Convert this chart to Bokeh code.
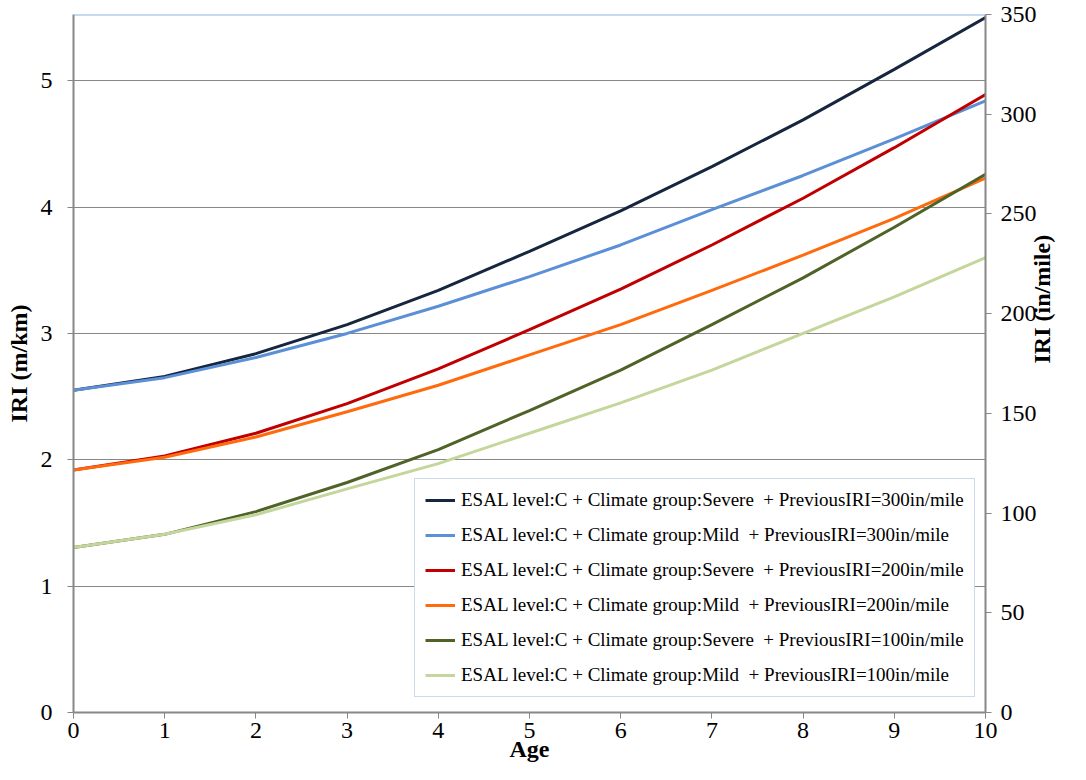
import math
from bokeh.plotting import figure
from bokeh.models import Range1d, LinearAxis, FixedTicker, Span, Legend, LegendItem
from bokeh.embed import file_html
from bokeh.resources import INLINE

age = [0, 1, 2, 3, 4, 5, 6, 7, 8, 9, 10]
severe_300 = [2.55, 2.66, 2.84, 3.07, 3.34, 3.65, 3.97, 4.32, 4.69, 5.09, 5.50]
mild_300 = [2.55, 2.65, 2.81, 3.00, 3.215, 3.45, 3.70, 3.98, 4.25, 4.54, 4.84]
severe_200 = [1.92, 2.03, 2.21, 2.445, 2.72, 3.03, 3.35, 3.70, 4.07, 4.47, 4.89]
mild_200 = [1.92, 2.02, 2.18, 2.38, 2.59, 2.83, 3.07, 3.34, 3.62, 3.91, 4.23]
severe_100 = [1.305, 1.41, 1.59, 1.82, 2.08, 2.39, 2.71, 3.07, 3.44, 3.84, 4.26]
mild_100 = [1.305, 1.41, 1.565, 1.77, 1.97, 2.21, 2.45, 2.71, 3.00, 3.29, 3.60]

series_names = [
    "ESAL level:C + Climate group:Severe  + PreviousIRI=300in/mile",
    "ESAL level:C + Climate group:Mild  + PreviousIRI=300in/mile",
    "ESAL level:C + Climate group:Severe  + PreviousIRI=200in/mile",
    "ESAL level:C + Climate group:Mild  + PreviousIRI=200in/mile",
    "ESAL level:C + Climate group:Severe  + PreviousIRI=100in/mile",
    "ESAL level:C + Climate group:Mild  + PreviousIRI=100in/mile",
]
series_values = [severe_300, mild_300, severe_200, mild_200, severe_100, mild_100]
series_colors = ["#17263F", "#5B8FD6", "#C00000", "#FF6A0D", "#4F6228", "#C3D69B"]

x_ticks = [0, 1, 2, 3, 4, 5, 6, 7, 8, 9, 10]
left_ticks = [0, 1, 2, 3, 4, 5]
right_ticks = [0, 50, 100, 150, 200, 250, 300, 350]

IN_MILE_TO_M_KM = 0.0254 / 1.609344
RIGHT_MAX = 350
LEFT_MAX = RIGHT_MAX * IN_MILE_TO_M_KM

FONT = "Liberation Serif"
GRAY = "#878787"

p = figure(width=1070, height=764,
           x_range=Range1d(0, 10), y_range=Range1d(0, LEFT_MAX),
           output_backend="svg", toolbar_location=None,
           min_border_left=73, min_border_right=84,
           min_border_top=14, min_border_bottom=48)
p.outline_line_color = None
p.background_fill_color = "white"
p.border_fill_color = "white"

p.extra_y_ranges = {"inmile": Range1d(0, RIGHT_MAX)}

p.xgrid.visible = False
p.ygrid.ticker = FixedTicker(ticks=left_ticks)
p.ygrid.grid_line_color = GRAY
p.ygrid.grid_line_width = 1

def style_axis(ax):
    ax.axis_line_color = GRAY
    ax.axis_line_width = 2
    ax.major_tick_line_color = GRAY
    ax.major_tick_line_width = 1
    ax.major_tick_out = 6
    ax.major_tick_in = 0
    ax.minor_tick_line_color = None
    ax.major_label_text_font = FONT
    ax.major_label_text_font_size = "24px"
    ax.major_label_text_color = "black"
    ax.axis_label_text_font = FONT
    ax.axis_label_text_font_size = "24px"
    ax.axis_label_text_font_style = "bold"
    ax.axis_label_text_color = "black"

xa = p.xaxis[0]
xa.ticker = FixedTicker(ticks=x_ticks)
xa.axis_label = "Age"
style_axis(xa)
xa.major_label_standoff = 4
xa.axis_label_standoff = -5

ya = p.yaxis[0]
ya.ticker = FixedTicker(ticks=left_ticks)
ya.axis_label = "IRI (m/km)"
style_axis(ya)
ya.major_label_standoff = 15
ya.axis_label_standoff = 6

ra = LinearAxis(y_range_name="inmile", ticker=FixedTicker(ticks=right_ticks),
                axis_label="IRI (in/mile)")
style_axis(ra)
ra.major_label_standoff = 9
ra.axis_label_standoff = 2
try:
    ra.axis_label_orientation = math.pi / 2
except Exception:
    pass
p.add_layout(ra, "right")

p.add_layout(Span(location=LEFT_MAX, dimension="width", line_color="#8EB4E3", line_width=2))

items = []
for name, vals, col in zip(series_names, series_values, series_colors):
    r = p.line(age, vals, line_color=col, line_width=3)
    items.append(LegendItem(label=name, renderers=[r]))

legend = Legend(items=items, location=(341, 15))
legend.label_text_font = FONT
legend.label_text_font_size = "19px"
legend.label_text_color = "black"
legend.glyph_width = 30
legend.glyph_height = 20
legend.label_height = 20
legend.label_standoff = 6
legend.spacing = 13
legend.padding = 10
legend.margin = 0
legend.border_line_color = "#95B3D7"
legend.border_line_width = 1.5
legend.background_fill_color = "white"
legend.background_fill_alpha = 1
p.add_layout(legend, "center")

open("out.html", "w").write(file_html(p, INLINE))
